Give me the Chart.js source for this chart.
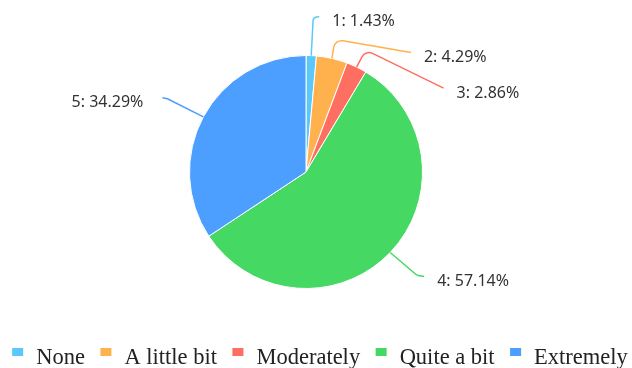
<!DOCTYPE html>
<html>
<head>
<meta charset="utf-8">
<script src="https://cdn.jsdelivr.net/npm/chart.js@4.4.1/dist/chart.umd.min.js"></script>
<style>
  html, body { margin: 0; padding: 0; background: #fff; }
</style>
</head>
<body>
<canvas id="pie" width="632" height="368"></canvas>
<script>
// data
const categories = ["None", "A little bit", "Moderately", "Quite a bit", "Extremely"];
const sliceNames = ["1", "2", "3", "4", "5"];
const percents = [1.43, 4.29, 2.86, 57.14, 34.29];
const colors = ["#5ac8fa", "#ffb14e", "#ff6f61", "#45d863", "#4c9eff"];

// leader line shape for each slice: corner and end, relative to the slice edge point
const leaders = [
    { corner: [2, -38], end: [8, -39], r: 4 },
    { corner: [3, -19], end: [79, -6], r: 8 },
    { corner: [9, -17], end: [87, 21], r: 8 },
    { corner: [27, 23], end: [34, 24], r: 8 },
    { corner: [-36, -18], end: [-41, -19], r: 8 },
];

//labels with leader lines
const sliceLabelPlugin = {
    id: "sliceLabels",
    afterDatasetsDraw(chart) {
        const ctx = chart.ctx;
        const arcs = chart.getDatasetMeta(0).data;
        ctx.save();
        ctx.font = "16px 'Noto Sans', 'Open Sans', sans-serif";
        ctx.textBaseline = "middle";
        arcs.forEach((arc, i) => {
            const mid = (arc.startAngle + arc.endAngle) / 2;
            const x0 = arc.x + Math.cos(mid) * arc.outerRadius;
            const y0 = arc.y + Math.sin(mid) * arc.outerRadius;
            const l = leaders[i];
            const cx = x0 + l.corner[0], cy = y0 + l.corner[1];
            const ex = x0 + l.end[0], ey = y0 + l.end[1];

            ctx.strokeStyle = colors[i];
            ctx.lineWidth = 1.5;
            ctx.beginPath();
            ctx.moveTo(x0, y0);
            ctx.arcTo(cx, cy, ex, ey, l.r);
            ctx.lineTo(ex, ey);
            ctx.stroke();

            const right = l.end[0] < 0;
            ctx.fillStyle = "#333";
            ctx.textAlign = right ? "right" : "left";
            ctx.fillText(sliceNames[i] + ": " + percents[i].toFixed(2) + "%", right ? ex - 19 : ex + 13, ey + 5);
        });
        ctx.restore();
    }
};

//legend at the bottom, square sits high next to the text
const bottomLegendPlugin = {
    id: "bottomLegend",
    afterDraw(chart) {
        const ctx = chart.ctx;
        ctx.save();
        ctx.font = "22.5px 'Liberation Serif', 'Times New Roman', serif";
        ctx.textBaseline = "alphabetic";
        ctx.textAlign = "left";
        const box = 11, toText = 13, toNext = 15.5;
        const widths = categories.map((c) => ctx.measureText(c).width);
        const total = widths.reduce((a, w) => a + box + toText + w, 0) + toNext * (categories.length - 1);
        let x = (chart.width - total) / 2 + 4;
        categories.forEach((c, i) => {
            ctx.fillStyle = colors[i];
            ctx.fillRect(x, 348, box, 8);
            ctx.fillStyle = "#222";
            ctx.fillText(c, x + box + toText, 364);
            x += box + toText + widths[i] + toNext;
        });
        ctx.restore();
    }
};

const chart = new Chart(document.getElementById("pie"), {
    type: "pie",
    data: {
        labels: categories,
        datasets: [
            {
                data: percents,
                backgroundColor: colors,
                borderColor: "#fff",
                borderWidth: 1,
            },
        ],
    },
    options: {
        responsive: false,
        animation: false,
        layout: {
            padding: { top: 55, bottom: 79, left: 0, right: 20 },
        },
        plugins: {
            legend: { display: false },
            tooltip: { enabled: false },
        },
    },
    plugins: [sliceLabelPlugin, bottomLegendPlugin],
});
</script>
</body>
</html>
